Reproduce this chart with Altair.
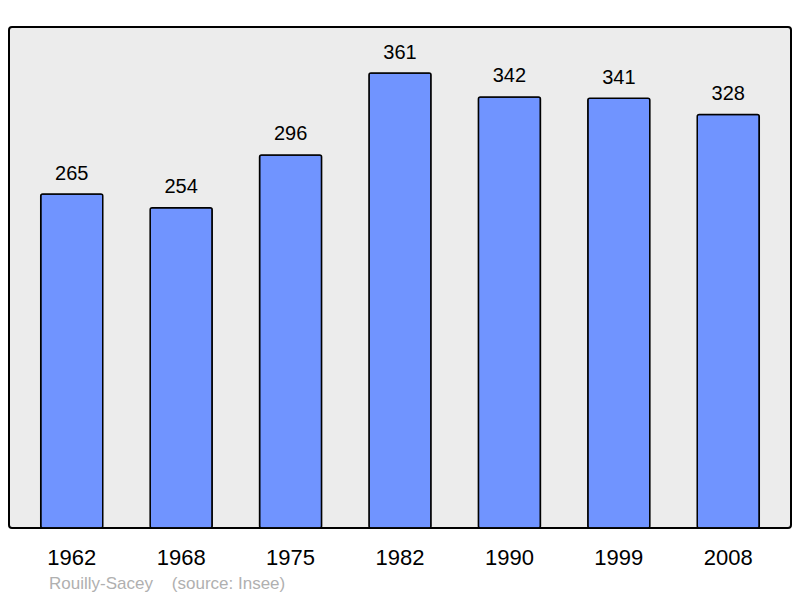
import altair as alt
import pandas as pd

years = ["1962", "1968", "1975", "1982", "1990", "1999", "2008"]
population = [265, 254, 296, 361, 342, 341, 328]
footer = ["Rouilly-Sacey\u00a0\u00a0\u00a0\u00a0(source: Insee)"]

df = pd.DataFrame({"year": years, "pop": population})

FONT = "Liberation Sans"

x = alt.X("year:N", sort=years, title=None,
          scale=alt.Scale(paddingInner=0.433, paddingOuter=0.29),
          axis=alt.Axis(labelAngle=0, labelFontSize=22, labelFont=FONT,
                        labelColor="#000000", labelPadding=19, domain=False,
                        ticks=False, grid=False))
y = alt.Y("pop:Q", title=None, scale=alt.Scale(domain=[0, 397.5], nice=False, zero=True),
          axis=None)

bars = alt.Chart(df).mark_bar(color="#7094ff", stroke="#000000", strokeWidth=1.5,
                              cornerRadius=2).encode(x=x, y=y)

labels = alt.Chart(df).mark_text(fontSize=20, font=FONT, color="#000000",
                                 baseline="alphabetic", dy=-14.5).encode(
    x=x, y=y, text="pop:Q")

foot = alt.Chart(pd.DataFrame({"t": footer})).mark_text(
    fontSize=17, font=FONT, color="#b0b0b0", align="left", baseline="middle"
).encode(x=alt.value(40), y=alt.value(557), text="t:N")

chart = alt.layer(bars, labels, foot).properties(
    width=782, height=501,
    autosize=alt.AutoSizeParams(type="none"),
    padding={"left": 1, "top": 19, "right": 1, "bottom": 70},
).configure_view(
    fill="#ececec", stroke="#000000", strokeWidth=2, cornerRadius=3
)

chart.save("out.html", embed_options={"renderer": "svg", "actions": False})
